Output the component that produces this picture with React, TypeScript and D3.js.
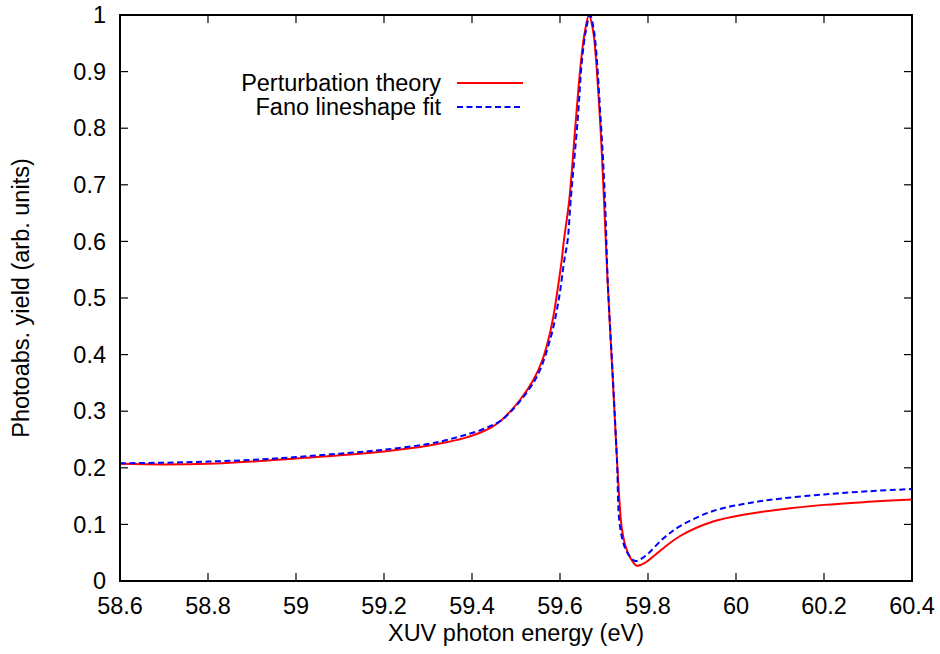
import React from "react";
import * as d3 from "d3";

const xTickValues = [58.6, 58.8, 59.0, 59.2, 59.4, 59.6, 59.8, 60.0, 60.2, 60.4];
const xTickLabels = ["58.6", "58.8", "59", "59.2", "59.4", "59.6", "59.8", "60", "60.2", "60.4"];
const yTickValues = [0, 0.1, 0.2, 0.3, 0.4, 0.5, 0.6, 0.7, 0.8, 0.9, 1.0];
const yTickLabels = ["0", "0.1", "0.2", "0.3", "0.4", "0.5", "0.6", "0.7", "0.8", "0.9", "1"];

// Perturbation theory (red)
const ptEnergy = [
  58.6, 58.7, 58.8, 58.9, 59.0, 59.1, 59.2, 59.3, 59.342, 59.38, 59.418, 59.445, 59.4675, 59.509, 59.5394,
  59.56, 59.5734, 59.5834, 59.591, 59.5977, 59.6039, 59.609, 59.621, 59.636, 59.648, 59.657,
  59.666, 59.675, 59.678, 59.691, 59.7, 59.708, 59.72, 59.7295, 59.735, 59.740, 59.748,
  59.759, 59.774, 59.785, 59.797, 59.835, 59.873, 59.948, 60.024, 60.1, 60.2, 60.3, 60.4,
];
const ptYield = [
  0.207, 0.206, 0.207, 0.211, 0.2165, 0.222, 0.229, 0.239, 0.245, 0.252, 0.262, 0.272, 0.2845, 0.3198, 0.355,
  0.3905, 0.4258, 0.4611, 0.4965, 0.5318, 0.567, 0.6025, 0.673, 0.8145, 0.9205, 0.973,
  1.0, 0.973, 0.956, 0.8145, 0.673, 0.532, 0.355, 0.214, 0.143, 0.096, 0.064,
  0.042, 0.027, 0.029, 0.034, 0.058, 0.0795, 0.105, 0.118, 0.1265, 0.1345, 0.1398, 0.144,
];

// Fano lineshape fit (blue dashed)
const fanoEnergy = [
  58.6, 58.7, 58.8, 58.9, 59.0, 59.1, 59.2, 59.3, 59.342, 59.38, 59.418, 59.445, 59.4698, 59.5432, 59.5773,
  59.597, 59.6098, 59.6175, 59.6243, 59.6402, 59.65, 59.659, 59.668, 59.677, 59.6925,
  59.7023, 59.7084, 59.7205, 59.7295, 59.7364, 59.7515, 59.7705, 59.7818, 59.797, 59.835,
  59.873, 59.948, 60.024, 60.1, 60.2, 60.3, 60.4,
];
const fanoYield = [
  0.208, 0.209, 0.211, 0.214, 0.219, 0.225, 0.232, 0.242, 0.249, 0.257, 0.266, 0.275, 0.2855, 0.355, 0.4258,
  0.4965, 0.567, 0.6025, 0.673, 0.8145, 0.9205, 0.973, 1.0, 0.973, 0.8145,
  0.673, 0.532, 0.355, 0.214, 0.096, 0.052, 0.0353, 0.038, 0.046, 0.0754,
  0.097, 0.1237, 0.137, 0.1455, 0.153, 0.1585, 0.1625,
];

const legendLabels = ["Perturbation theory", "Fano lineshape fit"];

const W = 940;
const H = 654;
const left = 120;
const right = 912;
const top = 15;
const bottom = 581;
const FONT = "'Liberation Sans', Arial, Helvetica, sans-serif";
const FS = 23.5;
const TICK = 8;

export default function App() {
  const x = d3.scaleLinear().domain([58.6, 60.4]).range([left, right]);
  const y = d3.scaleLinear().domain([0, 1]).range([bottom, top]);

  const line = d3
    .line<[number, number]>()
    .x((d) => x(d[0]))
    .y((d) => y(d[1]))
    .curve(d3.curveCatmullRom.alpha(0.5));

  const ptData: [number, number][] = ptEnergy.map((e, i) => [e, ptYield[i]]);
  const fanoData: [number, number][] = fanoEnergy.map((e, i) => [e, fanoYield[i]]);

  return (
    <svg
      width={W}
      height={H}
      style={{ position: "absolute", left: 0, top: 0, background: "#fff" }}
      fontFamily={FONT}
    >
      <defs>
        <clipPath id="plotclip">
          <rect x={left} y={top} width={right - left} height={bottom - top} />
        </clipPath>
      </defs>
      <rect x={0} y={0} width={W} height={H} fill="#fff" />

      {/* ticks */}
      {xTickValues.map((v, i) => (
        <g key={"xt" + i}>
          <line x1={x(v)} x2={x(v)} y1={bottom} y2={bottom - TICK} stroke="#000" strokeWidth={1.2} />
          <line x1={x(v)} x2={x(v)} y1={top} y2={top + TICK} stroke="#000" strokeWidth={1.2} />
          <text x={x(v)} y={614} textAnchor="middle" fontSize={FS} fill="#000">
            {xTickLabels[i]}
          </text>
        </g>
      ))}
      {yTickValues.map((v, i) => (
        <g key={"yt" + i}>
          <line x1={left} x2={left + TICK} y1={y(v)} y2={y(v)} stroke="#000" strokeWidth={1.2} />
          <line x1={right} x2={right - TICK} y1={y(v)} y2={y(v)} stroke="#000" strokeWidth={1.2} />
          <text x={106} y={y(v)} dy="0.35em" textAnchor="end" fontSize={FS} fill="#000">
            {yTickLabels[i]}
          </text>
        </g>
      ))}

      {/* curves */}
      <g clipPath="url(#plotclip)">
        <path d={line(ptData) || ""} fill="none" stroke="#ff0000" strokeWidth={2} />
        <path
          d={line(fanoData) || ""}
          fill="none"
          stroke="#0000ff"
          strokeWidth={2}
          strokeDasharray="6,3.5"
        />
      </g>

      {/* frame */}
      <rect
        x={left}
        y={top}
        width={right - left}
        height={bottom - top}
        fill="none"
        stroke="#000"
        strokeWidth={2}
      />

      {/* legend */}
      <text x={441} y={83} dy="0.35em" textAnchor="end" fontSize={FS} fill="#000">
        {legendLabels[0]}
      </text>
      <line x1={457} x2={523} y1={83} y2={83} stroke="#ff0000" strokeWidth={2} />
      <text x={441} y={107} dy="0.35em" textAnchor="end" fontSize={FS} fill="#000">
        {legendLabels[1]}
      </text>
      <line x1={457} x2={523} y1={107} y2={107} stroke="#0000ff" strokeWidth={2} strokeDasharray="6,3.5" />

      {/* axis titles */}
      <text x={(left + right) / 2} y={641} textAnchor="middle" fontSize={FS} fill="#000">
        XUV photon energy (eV)
      </text>
      <text
        transform={`translate(29, ${(top + bottom) / 2}) rotate(-90)`}
        textAnchor="middle"
        fontSize={FS}
        fill="#000"
      >
        Photoabs. yield (arb. units)
      </text>
    </svg>
  );
}
